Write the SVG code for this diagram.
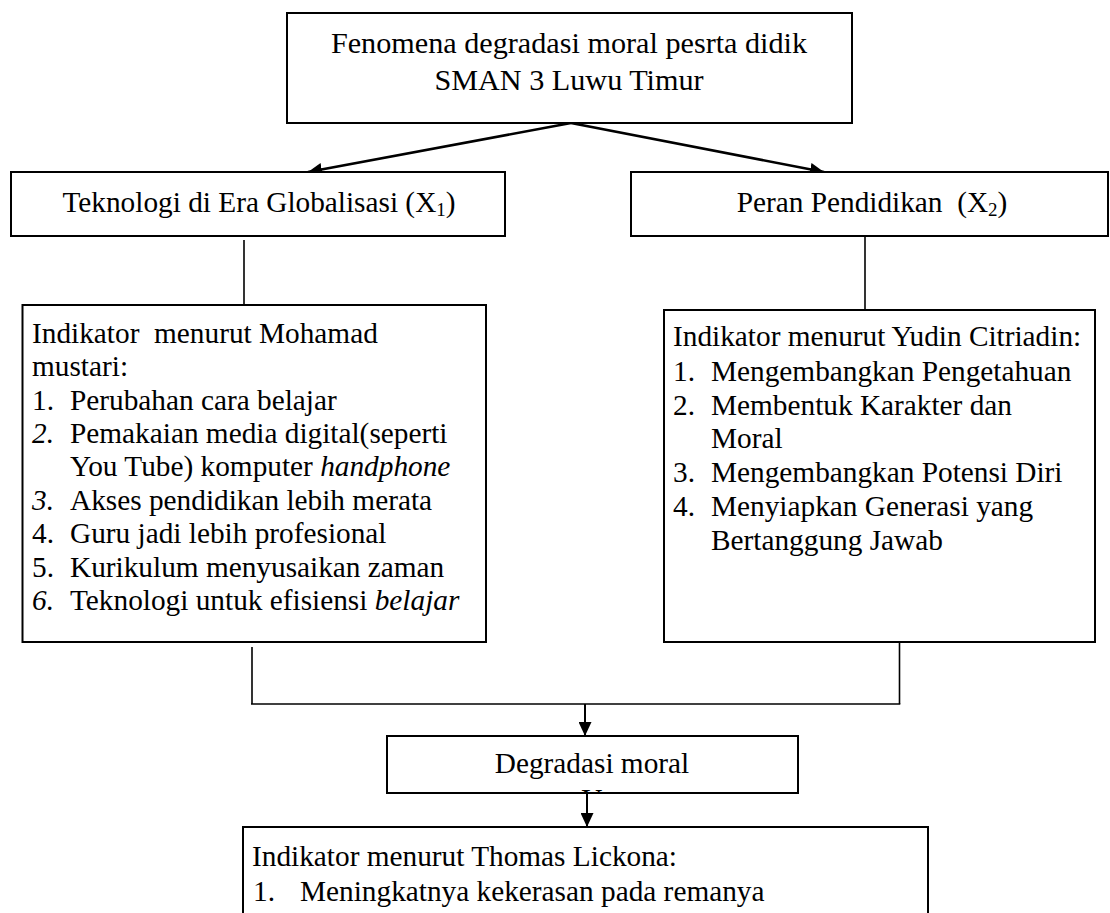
<svg xmlns="http://www.w3.org/2000/svg" width="1110" height="913" viewBox="0 0 1110 913">
  <style>
    .box { fill: #ffffff; stroke: #000000; stroke-width: 2; }
    .t { font-family: "Liberation Serif", "Times New Roman", serif; font-size: 29.3px; fill: #000000; white-space: pre; }
    .big { font-size: 30.2px; }
    .c { text-anchor: middle; }
    .i { font-style: italic; }
    .sub { font-size: 19px; }
    .ln { fill: none; stroke: #000000; stroke-width: 1.6; }
    .ar { fill: none; stroke: #000000; stroke-width: 2.6; }
  </style>
  <defs>
    <marker id="ah" viewBox="0 0 14 13" refX="14" refY="6.5" markerWidth="14" markerHeight="13" markerUnits="userSpaceOnUse" orient="auto">
      <path d="M0,0 L14,6.5 L0,13 Z" fill="#000000"/>
    </marker>
    <clipPath id="clipDeg">
      <rect x="388" y="737" width="409" height="55"/>
    </clipPath>
  </defs>
  <rect width="1110" height="913" fill="#ffffff"/>

  <g id="connectors">
    <line class="ar" x1="571" y1="123" x2="308" y2="172" marker-end="url(#ah)"/>
    <line class="ar" x1="571" y1="123" x2="824" y2="172" marker-end="url(#ah)"/>
    <line class="ln" x1="244" y1="240" x2="244" y2="305"/>
    <line class="ln" x1="865" y1="236" x2="865" y2="310"/>
    <line class="ln" x1="252" y1="647" x2="252" y2="704"/>
    <line class="ln" x1="899.5" y1="642" x2="899.5" y2="704"/>
    <line class="ln" x1="251" y1="704" x2="900.3" y2="704"/>
    <line class="ar" x1="585" y1="704" x2="585" y2="736" marker-end="url(#ah)" style="stroke-width:2"/>
    <line class="ar" x1="587" y1="793" x2="587" y2="827" marker-end="url(#ah)" style="stroke-width:2"/>
  </g>

  <g id="node-fenomena">
    <rect class="box" x="287" y="13" width="565" height="110"/>
    <text class="t big c" x="569" y="52.7">Fenomena degradasi moral pesrta didik</text>
    <text class="t big c" x="569" y="90">SMAN 3 Luwu Timur</text>
  </g>

  <g id="node-teknologi">
    <rect class="box" x="11" y="172" width="494" height="64"/>
    <text class="t c" x="259" y="211.5">Teknologi di Era Globalisasi (X<tspan class="sub" dy="4">1</tspan><tspan dy="-4">)</tspan></text>
  </g>

  <g id="node-peran">
    <rect class="box" x="631" y="172" width="477" height="64"/>
    <text class="t c" x="872" y="211.5">Peran Pendidikan  (X<tspan class="sub" dy="4">2</tspan><tspan dy="-4">)</tspan></text>
  </g>

  <g id="node-indikator-mustari">
    <rect class="box" x="22.5" y="305" width="463.5" height="337"/>
    <text class="t" x="32" y="342.7">Indikator  menurut Mohamad</text>
    <text class="t" x="32" y="376.1">mustari:</text>
    <text class="t" x="32" y="409.5">1.</text>
    <text class="t" x="70" y="409.5">Perubahan cara belajar</text>
    <text class="t i" x="32" y="442.9">2.</text>
    <text class="t" x="70" y="442.9">Pemakaian media digital(seperti</text>
    <text class="t" x="70" y="476.3">You Tube) komputer <tspan class="i">handphone</tspan></text>
    <text class="t i" x="32" y="509.7">3.</text>
    <text class="t" x="70" y="509.7">Akses pendidikan lebih merata</text>
    <text class="t" x="32" y="543.1">4.</text>
    <text class="t" x="70" y="543.1">Guru jadi lebih profesional</text>
    <text class="t" x="32" y="576.5">5.</text>
    <text class="t" x="70" y="576.5">Kurikulum menyusaikan zaman</text>
    <text class="t i" x="32" y="609.9">6.</text>
    <text class="t" x="70" y="609.9">Teknologi untuk efisiensi <tspan class="i">belajar</tspan></text>
  </g>

  <g id="node-indikator-citriadin">
    <rect class="box" x="664" y="310" width="431" height="332"/>
    <text class="t" x="673" y="346">Indikator menurut Yudin Citriadin:</text>
    <text class="t" x="673" y="380.5">1.</text>
    <text class="t" x="711" y="380.5">Mengembangkan Pengetahuan</text>
    <text class="t" x="673" y="414.5">2.</text>
    <text class="t" x="711" y="414.5">Membentuk Karakter dan</text>
    <text class="t" x="711" y="448">Moral</text>
    <text class="t" x="673" y="482">3.</text>
    <text class="t" x="711" y="482">Mengembangkan Potensi Diri</text>
    <text class="t" x="673" y="516">4.</text>
    <text class="t" x="711" y="516">Menyiapkan Generasi yang</text>
    <text class="t" x="711" y="550">Bertanggung Jawab</text>
  </g>

  <g id="node-degradasi">
    <rect class="box" x="387" y="736" width="411" height="57"/>
    <text class="t c" x="592" y="772.7">Degradasi moral</text>
    <text class="t c" x="592" y="808.5" clip-path="url(#clipDeg)">Y</text>
  </g>

  <g id="node-indikator-lickona">
    <rect class="box" x="243" y="827" width="685" height="110"/>
    <text class="t" x="252" y="865.7">Indikator menurut Thomas Lickona:</text>
    <text class="t" x="253" y="901">1.</text>
    <text class="t" x="300" y="901">Meningkatnya kekerasan pada remanya</text>
  </g>
</svg>
